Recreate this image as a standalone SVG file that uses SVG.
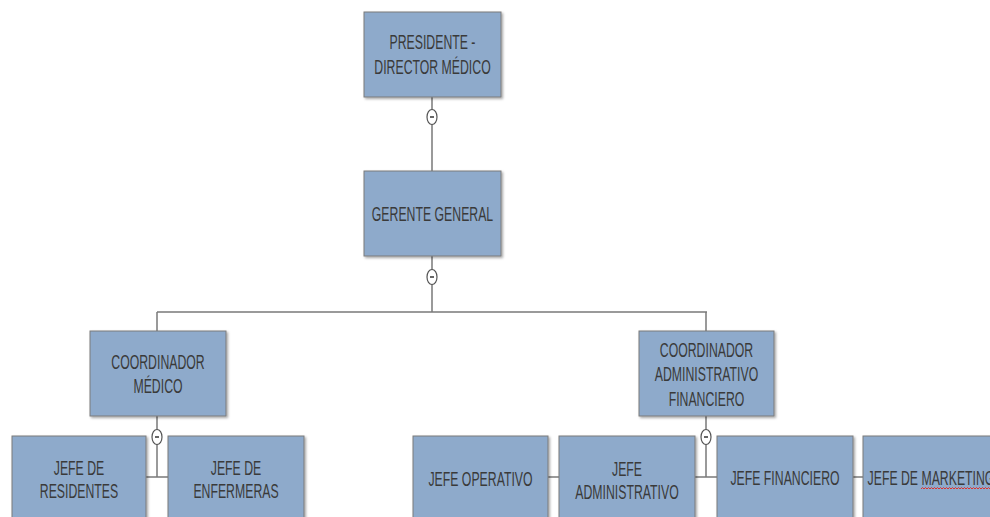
<svg xmlns="http://www.w3.org/2000/svg" width="990" height="517" viewBox="0 0 990 517">
<defs>
<filter id="sh" x="-10%" y="-10%" width="130%" height="130%">
<feDropShadow dx="1.5" dy="1.5" stdDeviation="1" flood-color="#000" flood-opacity="0.35"/>
</filter>
</defs>
<style>
.box{fill:#8EAACB;stroke:#7b7b7b;stroke-width:1;filter:url(#sh)}
.t{font-family:"Liberation Sans",Arial,sans-serif;font-size:21px;fill:#3a3a3a;text-anchor:middle}
.ln{stroke:#7a7a7a;stroke-width:1.5;fill:none}
.cc{fill:#fff;stroke:#555;stroke-width:1.2}
.mn{stroke:#333;stroke-width:1.5}
</style>
<rect width="990" height="517" fill="#fff"/>
<g id="connectors">
<path class="ln" d="M432 97V171M432 256V312M157 312H707M157 312V331M706 312V331M157 416V477M146 477H168M706 416V477M548 477H863"/>
<ellipse class="cc" cx="432" cy="117" rx="5" ry="7.5"/><line class="mn" x1="430" y1="117" x2="434" y2="117"/>
<ellipse class="cc" cx="432" cy="277" rx="5" ry="7.5"/><line class="mn" x1="430" y1="277" x2="434" y2="277"/>
<ellipse class="cc" cx="157" cy="437" rx="5" ry="7.5"/><line class="mn" x1="155" y1="437" x2="159" y2="437"/>
<ellipse class="cc" cx="706" cy="437" rx="5" ry="7.5"/><line class="mn" x1="704" y1="437" x2="708" y2="437"/>
</g>
<g id="presidente">
<rect class="box" x="364" y="12" width="137" height="85"/>
<text class="t" transform="matrix(0.585 0 0 1 432.5 0)"><tspan x="0" y="49.5">PRESIDENTE -</tspan><tspan x="0" y="74">DIRECTOR MÉDICO</tspan></text>
</g>
<g id="gerente">
<rect class="box" x="364" y="171" width="137" height="85"/>
<text class="t" transform="matrix(0.585 0 0 1 432.5 0)" x="0" y="221.5">GERENTE GENERAL</text>
</g>
<g id="coord-medico">
<rect class="box" x="90" y="331" width="136" height="85"/>
<text class="t" transform="matrix(0.585 0 0 1 158 0)"><tspan x="0" y="369">COORDINADOR</tspan><tspan x="0" y="393">MÉDICO</tspan></text>
</g>
<g id="coord-adm">
<rect class="box" x="639" y="331" width="135" height="85"/>
<text class="t" transform="matrix(0.585 0 0 1 706.5 0)"><tspan x="0" y="357">COORDINADOR</tspan><tspan x="0" y="381.5">ADMINISTRATIVO</tspan><tspan x="0" y="406">FINANCIERO</tspan></text>
</g>
<g id="jefe-residentes">
<rect class="box" x="12" y="436" width="134" height="90"/>
<text class="t" transform="matrix(0.585 0 0 1 79 0)"><tspan x="0" y="475">JEFE DE</tspan><tspan x="0" y="498">RESIDENTES</tspan></text>
</g>
<g id="jefe-enfermeras">
<rect class="box" x="168" y="436" width="136" height="90"/>
<text class="t" transform="matrix(0.585 0 0 1 236 0)"><tspan x="0" y="475">JEFE DE</tspan><tspan x="0" y="498">ENFERMERAS</tspan></text>
</g>
<g id="jefe-operativo">
<rect class="box" x="413" y="436" width="135" height="90"/>
<text class="t" transform="matrix(0.585 0 0 1 480.5 0)" x="0" y="486">JEFE OPERATIVO</text>
</g>
<g id="jefe-administrativo">
<rect class="box" x="559" y="436" width="136" height="90"/>
<text class="t" transform="matrix(0.585 0 0 1 627 0)"><tspan x="0" y="476">JEFE</tspan><tspan x="0" y="499">ADMINISTRATIVO</tspan></text>
</g>
<g id="jefe-financiero">
<rect class="box" x="717" y="436" width="136" height="90"/>
<text class="t" transform="matrix(0.585 0 0 1 785 0)" x="0" y="485.5">JEFE FINANCIERO</text>
</g>
<g id="jefe-marketing">
<rect class="box" x="863" y="436" width="137" height="90"/>
<text class="t" transform="matrix(0.585 0 0 1 931 0)" x="0" y="485.5">JEFE DE MARKETING</text>
<path d="M921 489l1.5-1.5 1.5 1.5 1.5-1.5 1.5 1.5 1.5-1.5 1.5 1.5 1.5-1.5 1.5 1.5 1.5-1.5 1.5 1.5 1.5-1.5 1.5 1.5 1.5-1.5 1.5 1.5 1.5-1.5 1.5 1.5 1.5-1.5 1.5 1.5 1.5-1.5 1.5 1.5 1.5-1.5 1.5 1.5 1.5-1.5 1.5 1.5 1.5-1.5 1.5 1.5 1.5-1.5 1.5 1.5 1.5-1.5 1.5 1.5 1.5-1.5 1.5 1.5 1.5-1.5 1.5 1.5 1.5-1.5 1.5 1.5 1.5-1.5 1.5 1.5 1.5-1.5 1.5 1.5 1.5-1.5 1.5 1.5 1.5-1.5 1.5 1.5 1.5-1.5 1.5 1.5 1.5-1.5" fill="none" stroke="#e0302a" stroke-width="1"/>
</g>
</svg>
